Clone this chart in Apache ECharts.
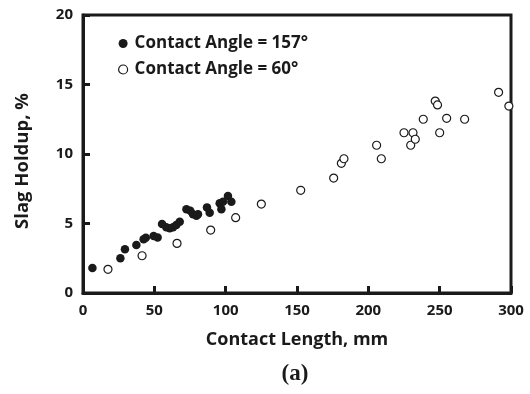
<!DOCTYPE html>
<html>
<head>
<meta charset="utf-8">
<script src="https://cdn.jsdelivr.net/npm/echarts@6/dist/echarts.min.js"></script>
<style>
  html, body { margin: 0; padding: 0; background: #fff; }
  #chart { width: 530px; height: 394px; }
</style>
</head>
<body>
<div id="chart"></div>
<script>
// Contact length (mm) and slag holdup (%) for the two contact angles
const angle157Length = [6.6, 26.2, 29.4, 37.4, 42.5, 44.0, 49.5, 52.3, 55.4, 58.4, 60.8, 63.1, 65.4, 67.8,
  72.5, 75.2, 77.1, 79.5, 80.6, 86.9, 88.8, 95.8, 97.0, 98.1, 101.6, 104.0];
const angle157Holdup = [1.8, 2.5, 3.14, 3.45, 3.86, 3.98, 4.1, 4.0, 4.96, 4.73, 4.65, 4.73, 4.89, 5.13,
  6.02, 5.92, 5.66, 5.56, 5.66, 6.16, 5.78, 6.45, 6.02, 6.57, 6.98, 6.57];

const angle60Length = [17.5, 41.4, 65.9, 89.5, 107.0, 125.0, 152.6, 175.7, 181.1, 182.9, 205.8, 209.1,
  225.0, 231.3, 229.7, 232.9, 238.5, 246.9, 248.5, 250.0, 254.9, 267.5, 291.3, 298.5];
const angle60Holdup = [1.7, 2.68, 3.57, 4.53, 5.42, 6.4, 7.39, 8.27, 9.33, 9.66, 10.63, 9.66,
  11.53, 11.53, 10.63, 11.06, 12.5, 13.81, 13.53, 11.53, 12.57, 12.5, 14.44, 13.45];

const xTicks = [0, 50, 100, 150, 200, 250, 300];
const yTicks = [0, 5, 10, 15, 20];

const seriesNames = ['Contact Angle = 157°', 'Contact Angle = 60°'];
const yTitle = 'Slag Holdup, %';
const panelLabel = '(a)';

const pair = (xs, ys) => xs.map((x, i) => [x, ys[i]]);

const font = '"Open Sans", Lato, sans-serif';
const ink = '#1a1a1a';

const chart = echarts.init(document.getElementById('chart'));
chart.setOption({
  animation: false,
  backgroundColor: '#fff',
  grid: {
    left: 83, right: 19, top: 15, bottom: 101,
    show: true, borderColor: ink, borderWidth: 3, backgroundColor: 'transparent'
  },
  legend: {
    orient: 'vertical',
    left: 113, top: 30,
    itemWidth: 9, itemHeight: 9, itemGap: 9,
    textStyle: { fontFamily: font, fontWeight: 'bold', fontSize: 17, color: ink, padding: [0, 0, 0, 2] },
    data: [
      { name: seriesNames[0], icon: 'circle', itemStyle: { color: ink, borderWidth: 0 } },
      { name: seriesNames[1], icon: 'circle', itemStyle: { color: '#fff', borderColor: ink, borderWidth: 1.2 } }
    ]
  },
  xAxis: {
    type: 'value', min: xTicks[0], max: xTicks[xTicks.length - 1], interval: 50,
    name: 'Contact Length, mm', nameLocation: 'middle', nameGap: 38,
    nameTextStyle: { fontFamily: font, fontWeight: 'bold', fontSize: 18, color: ink },
    axisLine: { show: true, lineStyle: { color: ink, width: 3 } },
    axisTick: { show: true, inside: true, length: 7, lineStyle: { color: ink, width: 3 } },
    axisLabel: { fontFamily: font, fontWeight: 'bold', fontSize: 15, color: ink, margin: 10 },
    splitLine: { show: false }
  },
  yAxis: {
    type: 'value', min: yTicks[0], max: yTicks[yTicks.length - 1], interval: 5,
    axisLine: { show: true, lineStyle: { color: ink, width: 3 } },
    axisTick: { show: true, inside: true, length: 7, lineStyle: { color: ink, width: 3 } },
    axisLabel: { fontFamily: font, fontWeight: 'bold', fontSize: 15, color: ink, margin: 10 },
    splitLine: { show: false }
  },
  graphic: [
    {
      // vertical axis title, set slightly below the axis middle
      type: 'text', x: 23, y: 161, rotation: Math.PI / 2,
      style: {
        text: yTitle, font: 'bold 18.5px "Open Sans", Lato, sans-serif', fill: ink,
        align: 'center', verticalAlign: 'middle'
      }
    },
    {
      type: 'text', x: 295, y: 374,
      style: {
        text: panelLabel, font: 'bold 23px "Liberation Serif", "DejaVu Serif", serif', fill: ink,
        align: 'center', verticalAlign: 'middle'
      }
    }
  ],
  series: [
    {
      name: seriesNames[0], type: 'scatter', symbol: 'circle', symbolSize: 8.5,
      itemStyle: { color: ink, opacity: 1 },
      data: pair(angle157Length, angle157Holdup)
    },
    {
      name: seriesNames[1], type: 'scatter', symbol: 'circle', symbolSize: 8,
      itemStyle: { color: '#fff', borderColor: ink, borderWidth: 1.2, opacity: 1 },
      data: pair(angle60Length, angle60Holdup)
    }
  ]
});
</script>
</body>
</html>
